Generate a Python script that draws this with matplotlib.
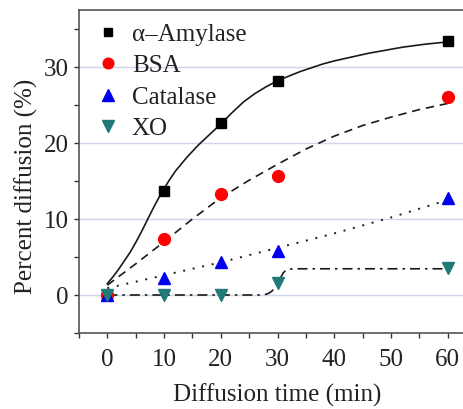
import matplotlib
matplotlib.use("Agg")
import matplotlib.pyplot as plt
from matplotlib import font_manager

names = {f.name for f in font_manager.fontManager.ttflist}
fams = []
for n in ['Liberation Serif', 'Times New Roman', 'STIXGeneral']:
    if n in names:
        fams.append(n)
plt.rcParams['font.family'] = fams + ['DejaVu Serif']

# measured data
time_min = [0, 10, 20, 30, 60]
amylase = [0, 13.7, 22.6, 28.2, 33.4]
bsa = [0, 7.4, 13.3, 15.6, 26.1]
catalase = [0, 2.2, 4.4, 5.8, 12.8]
xo = [0, 0, 0, 1.6, 3.5]

# fitted curves
amy_fit_x = [0, 1, 2, 3, 4, 5, 6, 7, 8, 9, 10, 11, 12, 13, 14, 15, 16, 17, 18, 19, 20,
             22, 24, 26, 28, 30, 32, 34, 36, 38, 40, 43, 46, 49, 52, 56, 60]
amy_fit_y = [1.5, 2.4, 3.4, 4.5, 5.6, 6.9, 8.3, 9.8, 11.3, 12.7, 14.0, 15.2, 16.3, 17.2, 18.1,
             18.9, 19.7, 20.4, 21.1, 21.8, 22.5, 24.0, 25.4, 26.5, 27.4, 28.2, 28.8, 29.4,
             29.9, 30.4, 30.8, 31.3, 31.8, 32.2, 32.6, 33.0, 33.3]
bsa_fit_x = [0, 5, 10, 15, 20, 25, 30, 35, 40, 45, 50, 55, 60]
bsa_fit_y = [1.3, 4.1, 7.0, 10.0, 12.8, 15.1, 17.2, 19.2, 20.9, 22.3, 23.4, 24.4, 25.2]
cat_fit_x = [0, 10, 20, 30, 40, 50, 60]
cat_fit_y = [0.9, 2.6, 4.3, 6.2, 8.1, 10.2, 12.5]
xo_fit_x = [0, 27, 27.5, 28, 28.5, 29, 29.5, 30, 30.5, 31, 31.5, 32, 33, 60]
xo_fit_y = [0, 0, 0.02, 0.1, 0.25, 0.5, 0.95, 1.5, 2.2, 2.9, 3.25, 3.4, 3.45, 3.45]

labels = ['\u03b1\u2013Amylase', 'BSA', 'Catalase', 'XO']
xticks = [0, 10, 20, 30, 40, 50, 60]
yticks = [0, 10, 20, 30]

fig = plt.figure(figsize=(4.63, 4.09), dpi=100)
ax = fig.add_axes([79/463, 76/409, 397/463, 323/409])

ax.set_xlim(-5, 65)
ax.set_ylim(-5, 37.5)

for y in yticks:
    ax.axhline(y, color='#cfd6e6', lw=1.0, zorder=0)

lc = '#1a1a1a'
ax.plot(amy_fit_x, amy_fit_y, '-', color=lc, lw=1.2, zorder=2)
ax.plot(bsa_fit_x, bsa_fit_y, '--', color=lc, lw=1.2, dashes=(5, 3.5), zorder=2)
ax.plot(cat_fit_x, cat_fit_y, ':', color=lc, lw=1.4, dashes=(1, 4), zorder=2)
ax.plot(xo_fit_x, xo_fit_y, '-.', color=lc, lw=1.2, dashes=(6, 3, 1.5, 3), zorder=2)

ax.plot(time_min, amylase, 's', color='black', ms=7, ls='none', label=labels[0], zorder=3)
ax.plot(time_min, bsa, 'o', color='#ff0000', ms=8.5, ls='none', label=labels[1], zorder=3)
ax.plot(time_min, catalase, '^', color='#0000ee', ms=9, ls='none', label=labels[2], zorder=3)
ax.plot(time_min, xo, 'v', color='#1f7a78', ms=9, ls='none', label=labels[3], zorder=3)

ax.set_xticks(xticks)
ax.set_yticks(yticks)
ax.set_xticks([-5, 5, 15, 25, 35, 45, 55, 65], minor=True)
ax.set_yticks([-5, 5, 15, 25, 35], minor=True)
ax.tick_params(axis='both', which='both', direction='out', length=3.5, width=1, colors='#333333',
               labelsize=18, labelcolor='#222222')
ax.tick_params(axis='x', which='major', pad=8)
ax.tick_params(axis='y', which='major', pad=4)
ax.tick_params(top=False, right=False, which='both')

for s in ['left', 'bottom', 'top']:
    ax.spines[s].set_color('#555555')
    ax.spines[s].set_linewidth(1.2)
ax.spines['right'].set_visible(False)

ax.set_xlabel('Diffusion time (min)', fontsize=18, color='#222222', labelpad=9)
ax.set_ylabel('Percent diffusion (%)', fontsize=18, color='#222222')
ax.yaxis.set_label_coords(-0.103, 0.455)

leg = ax.legend(loc='upper left', frameon=False, fontsize=18, handletextpad=0.35,
                labelspacing=0.36, borderaxespad=0.0, bbox_to_anchor=(0.01, 0.99),
                handlelength=1.2, markerscale=0.9)
for t in leg.get_texts():
    t.set_color('#222222')

fig.savefig('out.png', dpi=100)
